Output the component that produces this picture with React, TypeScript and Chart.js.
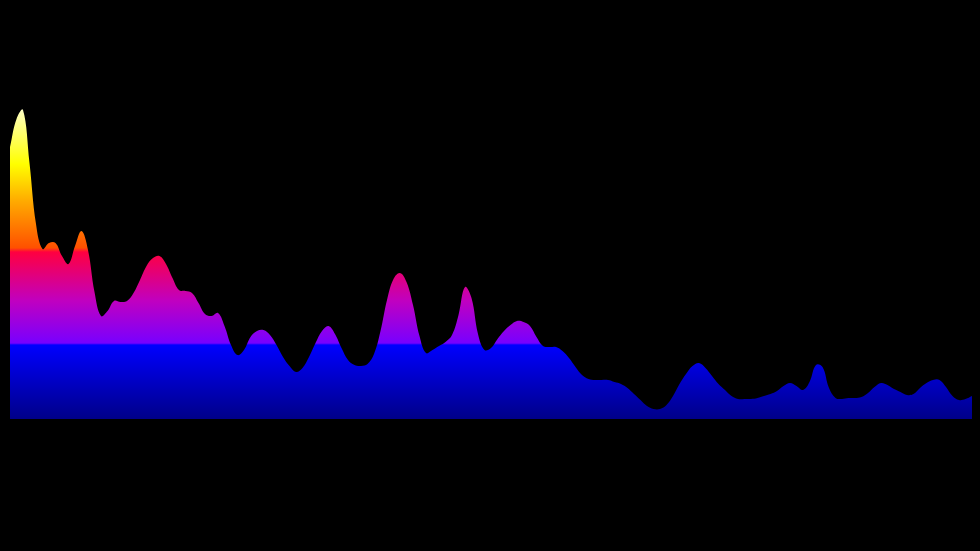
import React, { useEffect, useRef } from "react";
import { Chart, registerables } from "chart.js";

Chart.register(...registerables);

// Spectrum bins (149 evenly spaced bins)
const bins: string[] = Array.from({ length: 149 }, (_, i) => `bin ${i + 1}`);

// Levels (0 = baseline)
const levels: number[] = [
  272, 300, 309, 256, 195, 170, 176, 176, 163, 155,
  173, 188, 169, 127, 103, 108, 118, 117, 118, 126,
  139, 153, 161, 163, 155, 141, 129, 128, 126, 116,
  105, 103, 106, 93, 74, 64, 69, 82, 88, 89,
  84, 74, 62, 53, 47, 51, 62, 76, 88, 93,
  85, 71, 59, 54, 53, 55, 65, 88, 119, 140,
  146, 137, 114, 83, 66, 69, 73, 77, 84, 104,
  132, 121, 85, 69, 71, 80, 88, 94, 98, 97,
  93, 82, 73, 72, 72, 68, 61, 52, 44, 40,
  39, 39, 39, 37, 35, 31, 25, 19, 13, 10,
  10, 14, 23, 35, 45, 53, 56, 51, 43, 35,
  29, 23, 20, 20, 20, 21, 23, 25, 28, 33,
  36, 33, 29, 37, 54, 52, 31, 21, 20, 21,
  21, 22, 26, 32, 36, 34, 30, 27, 24, 25,
  31, 36, 39, 39, 32, 23, 19, 20, 23,
];

const levelMax = 419;
const gradientTop = 311;

// Gradient colour stops (fraction of gradientTop, colour)
const stopPositions: number[] = [0, 0.238, 0.244, 0.38, 0.537, 0.55, 0.7, 0.82, 1];
const stopColors: string[] = [
  "#000088", "#0000ff", "#7800ff", "#c000c0", "#ff0040",
  "#ff5000", "#ffaa00", "#ffff00", "#ffffc8",
];

const blackBg = {
  id: "blackBg",
  beforeDraw(chart: any) {
    const { ctx, width, height } = chart;
    ctx.save();
    ctx.fillStyle = "#000";
    ctx.fillRect(0, 0, width, height);
    ctx.restore();
  },
};

export default function App() {
  const ref = useRef<HTMLCanvasElement | null>(null);

  useEffect(() => {
    document.body.style.margin = "0";
    document.body.style.background = "#000";
    const canvas = ref.current;
    if (!canvas) return;
    const chart = new Chart(canvas, {
      type: "line",
      data: {
        labels: bins,
        datasets: [
          {
            data: levels,
            fill: "origin",
            borderWidth: 0,
            pointRadius: 0,
            tension: 0.4,
            backgroundColor: (c: any) => {
              const ch = c.chart;
              const ys = ch.scales && ch.scales.y;
              if (!ch.chartArea || !ys) return "#0000ff";
              const y0 = ys.getPixelForValue(0);
              const y1 = ys.getPixelForValue(gradientTop);
              const g = ch.ctx.createLinearGradient(0, y0, 0, y1);
              stopPositions.forEach((p, i) => g.addColorStop(p, stopColors[i]));
              return g;
            },
          },
        ],
      },
      options: {
        responsive: false,
        animation: false,
        layout: { padding: { left: 10, right: 8, top: 0, bottom: 132 } },
        plugins: { legend: { display: false }, tooltip: { enabled: false } },
        scales: {
          x: { display: false },
          y: { display: false, min: 0, max: levelMax },
        },
      },
      plugins: [blackBg],
    });
    return () => chart.destroy();
  }, []);

  return <canvas ref={ref} width={980} height={551} style={{ display: "block" }} />;
}
